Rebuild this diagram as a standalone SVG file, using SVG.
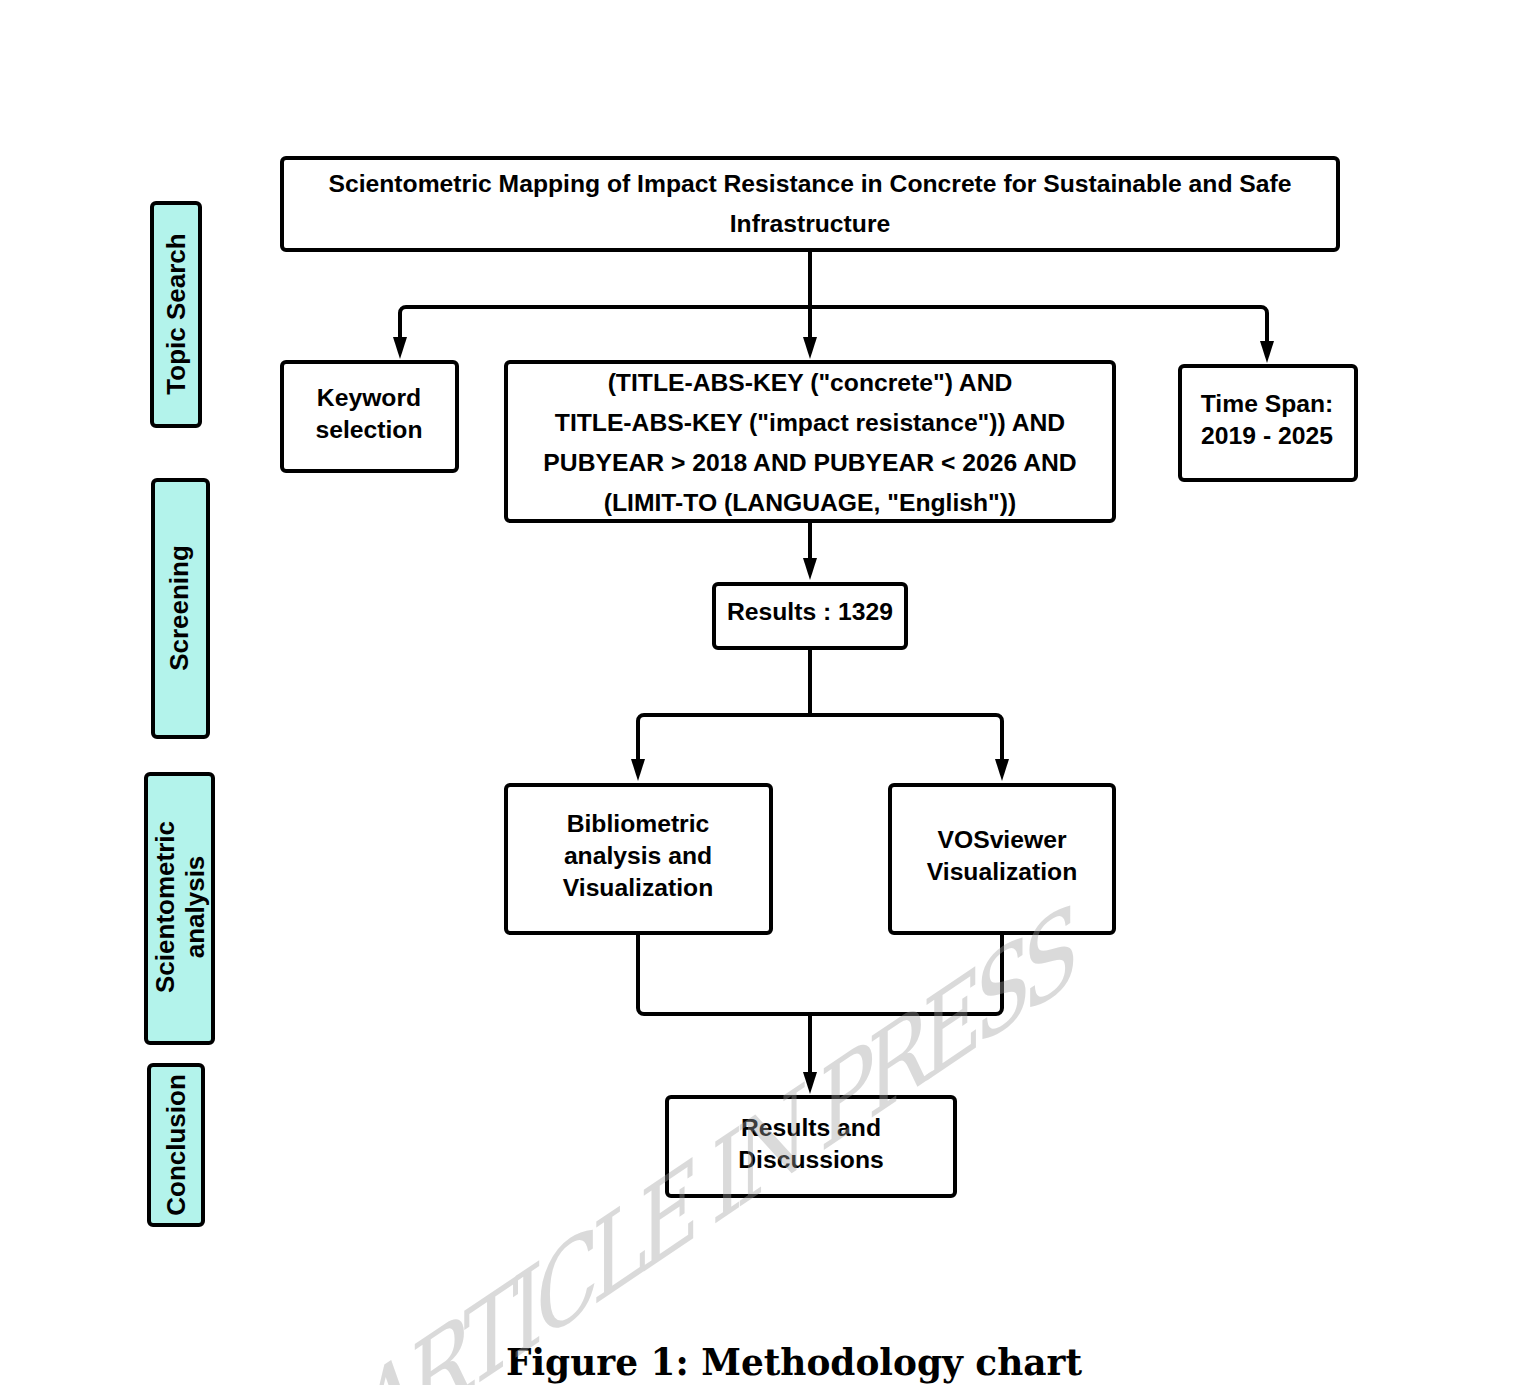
<svg xmlns="http://www.w3.org/2000/svg" width="1534" height="1385" viewBox="0 0 1534 1385">
<defs>
<style>
.box{fill:#fff;stroke:#000;stroke-width:4}
.side{fill:#b3f3eb;stroke:#000;stroke-width:4}
.t{font-family:"Liberation Sans",Arial,sans-serif;font-weight:bold;font-size:24.7px;fill:#000;text-anchor:middle}
.s{font-family:"Liberation Sans",Arial,sans-serif;font-weight:bold;font-size:26px;fill:#000;text-anchor:middle}
.c{fill:none;stroke:#000;stroke-width:4;stroke-linejoin:round}
.a{marker-end:url(#arr)}
</style>
<marker id="arr" viewBox="0 0 22 14" refX="14" refY="7" markerWidth="22" markerHeight="14" markerUnits="userSpaceOnUse" orient="auto">
<path d="M0,0 L22,7 L0,14 z" fill="#000"/>
</marker>
</defs>
<rect width="1534" height="1385" fill="#fff"/>

<g id="connectors">
<path class="c a" d="M810,251 V351"/>
<path class="c a" d="M810,307 H406 A6,6 0 0 0 400,313 V351"/>
<path class="c a" d="M810,307 H1261 A6,6 0 0 1 1267,313 V355"/>
<path class="c a" d="M810,521 V572"/>
<path class="c" d="M810,648 V715"/>
<path class="c a" d="M810,715 H644 A6,6 0 0 0 638,721 V773"/>
<path class="c a" d="M810,715 H996 A6,6 0 0 1 1002,721 V773"/>
<path class="c" d="M638,933 V1008 A6,6 0 0 0 644,1014 H996 A6,6 0 0 0 1002,1008 V933"/>
<path class="c a" d="M810,1014 V1086"/>
</g>

<g id="side-topic">
<rect class="side" x="152" y="203" width="48" height="223" rx="4"/>
<text class="s" transform="translate(184.5,314) rotate(-90)">Topic Search</text>
</g>
<g id="side-screening">
<rect class="side" x="153" y="480" width="55" height="257" rx="4"/>
<text class="s" transform="translate(188,608) rotate(-90)">Screening</text>
</g>
<g id="side-scientometric">
<rect class="side" x="146" y="774" width="67" height="269" rx="4"/>
<text class="s" transform="translate(173.5,907) rotate(-90)">Scientometric</text>
<text class="s" transform="translate(203.5,907) rotate(-90)">analysis</text>
</g>
<g id="side-conclusion">
<rect class="side" x="149" y="1065" width="54" height="160" rx="4"/>
<text class="s" transform="translate(185,1145) rotate(-90)">Conclusion</text>
</g>

<g id="title">
<rect class="box" x="282" y="158" width="1056" height="92" rx="4"/>
<text class="t" x="810" y="192">Scientometric Mapping of Impact Resistance in Concrete for Sustainable and Safe</text>
<text class="t" x="810" y="232">Infrastructure</text>
</g>
<g id="keyword">
<rect class="box" x="282" y="362" width="175" height="109" rx="4"/>
<text class="t" x="369" y="406">Keyword</text>
<text class="t" x="369" y="438">selection</text>
</g>
<g id="query">
<rect class="box" x="506" y="362" width="608" height="159" rx="4"/>
<text class="t" x="810" y="391">(TITLE-ABS-KEY ("concrete") AND</text>
<text class="t" x="810" y="431">TITLE-ABS-KEY ("impact resistance")) AND</text>
<text class="t" x="810" y="471">PUBYEAR &gt; 2018 AND PUBYEAR &lt; 2026 AND</text>
<text class="t" x="810" y="511">(LIMIT-TO (LANGUAGE, "English"))</text>
</g>
<g id="timespan">
<rect class="box" x="1180" y="366" width="176" height="114" rx="4"/>
<text class="t" x="1267" y="412">Time Span:</text>
<text class="t" x="1267" y="444">2019 - 2025</text>
</g>
<g id="results">
<rect class="box" x="714" y="584" width="192" height="64" rx="4"/>
<text class="t" x="810" y="620">Results : 1329</text>
</g>
<g id="bibliometric">
<rect class="box" x="506" y="785" width="265" height="148" rx="4"/>
<text class="t" x="638" y="832">Bibliometric</text>
<text class="t" x="638" y="864">analysis and</text>
<text class="t" x="638" y="896">Visualization</text>
</g>
<g id="vosviewer">
<rect class="box" x="890" y="785" width="224" height="148" rx="4"/>
<text class="t" x="1002" y="848">VOSviewer</text>
<text class="t" x="1002" y="880">Visualization</text>
</g>
<g id="discussion">
<rect class="box" x="667" y="1097" width="288" height="99" rx="4"/>
<text class="t" x="811" y="1136">Results and</text>
<text class="t" x="811" y="1168">Discussions</text>
</g>

<text x="506" y="1375" textLength="576" lengthAdjust="spacingAndGlyphs" style="font-family:'DejaVu Serif',serif;font-weight:bold;font-size:37px;fill:#000">Figure 1: Methodology chart</text>

<g opacity="0.38">
<text transform="matrix(0.829,-0.559,0,1.12,358,1464)" x="0" y="0" textLength="870" lengthAdjust="spacing" style="font-family:'DejaVu Serif',serif;font-size:100px;fill:#a0a0a0">ARTICLE IN PRESS</text>
</g>
</svg>
